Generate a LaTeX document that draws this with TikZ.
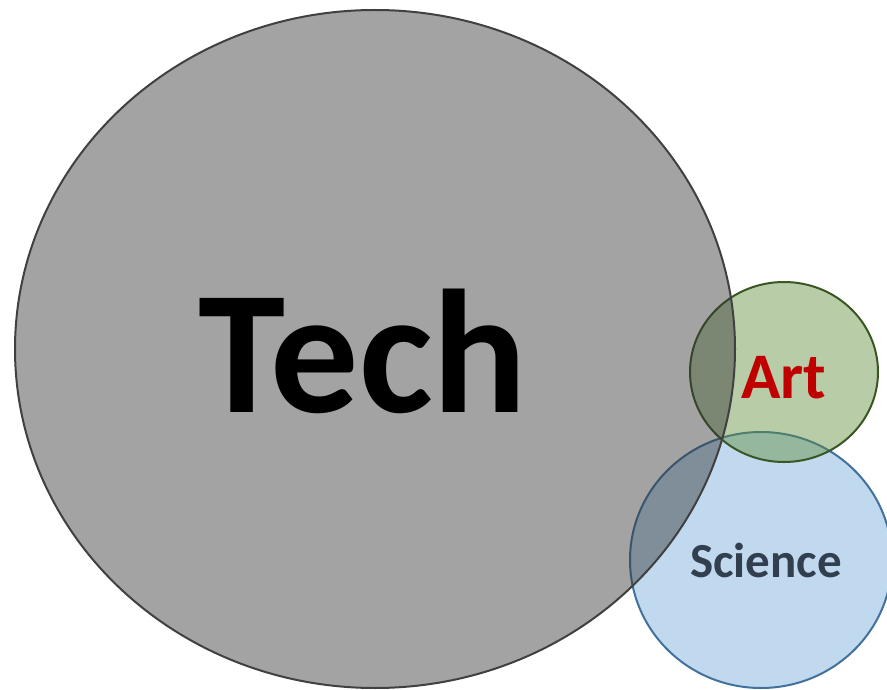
\documentclass[tikz,border=0pt]{standalone}
\usepackage{fontspec}
\setmainfont{Carlito}
\usepackage{tikz}

\definecolor{techfill}{RGB}{51,51,51}
\definecolor{techline}{RGB}{64,64,64}
\definecolor{artfill}{RGB}{97,142,62}
\definecolor{artline}{RGB}{56,87,35}
\definecolor{arttext}{RGB}{192,0,0}
\definecolor{scifill}{RGB}{192,217,238}
\definecolor{sciline}{RGB}{65,113,156}
\definecolor{scitext}{RGB}{50,63,79}

\begin{document}
\begin{tikzpicture}[x=1pt,y=-1pt,line width=2pt]

\useasboundingbox (0,0) rectangle (887,690);
\clip (0,0) rectangle (887,690);

\coordinate (techc) at (375,349);
\coordinate (artc) at (784,372);
\coordinate (scic) at (761,560);

\filldraw[fill=scifill,draw=sciline] (scic) ellipse [x radius=131pt,y radius=128pt];
\filldraw[fill=artfill,fill opacity=0.45,draw=artline] (artc) ellipse [x radius=94pt,y radius=90pt];
\filldraw[fill=techfill,fill opacity=0.45,draw=techline] (techc) ellipse [x radius=360pt,y radius=339pt];

\node(tech) at (363,412) [anchor=base,font=\bfseries\fontsize{176}{176}\selectfont]{Tech};
\node(art) at (784,398) [anchor=base,text=arttext,font=\bfseries\fontsize{65}{65}\selectfont]{Art};
\node(science) at (766,577) [anchor=base,text=scitext,font=\bfseries\fontsize{49}{49}\selectfont]{Science};

\end{tikzpicture}
\end{document}
